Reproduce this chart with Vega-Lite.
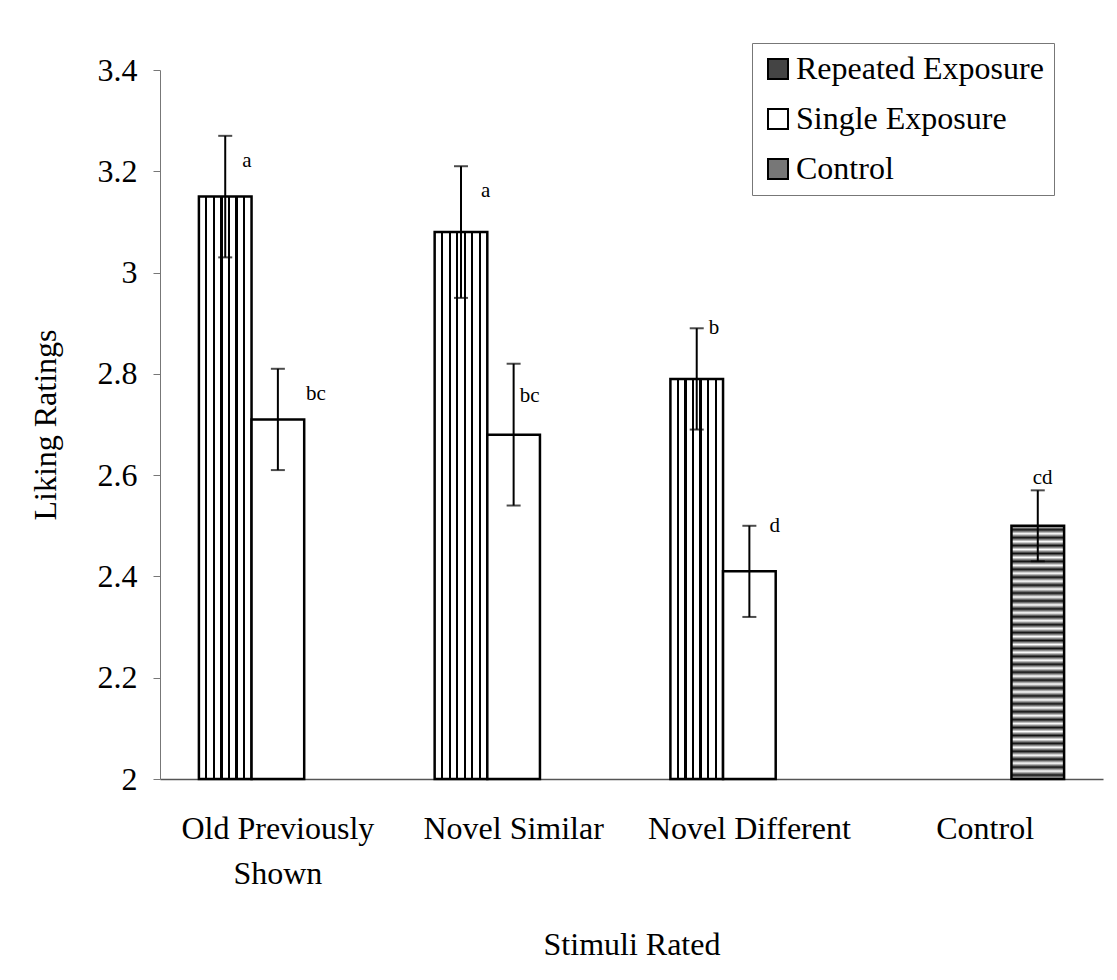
{
  "$schema": "https://vega.github.io/schema/vega-lite/v6.json",
  "width": 943,
  "height": 709,
  "autosize": {"type": "none"},
  "padding": {"left": 160, "top": 70, "right": 14, "bottom": 201},
  "background": "white",
  "config": {
    "view": {"stroke": null},
    "font": "Liberation Serif",
    "axis": {"labelFont": "Liberation Serif", "titleFont": "Liberation Serif", "labelColor": "black", "titleColor": "black", "titleFontWeight": "normal", "grid": false},
    "legend": {"labelFont": "Liberation Serif"}
  },
  "data": {
    "values": [
      {"cat": "Old Previously Shown", "group": "Repeated Exposure", "mean": 3.15, "lo": 3.03, "hi": 3.27, "sig": "a"},
      {"cat": "Old Previously Shown", "group": "Single Exposure", "mean": 2.71, "lo": 2.61, "hi": 2.81, "sig": "bc"},
      {"cat": "Novel Similar", "group": "Repeated Exposure", "mean": 3.08, "lo": 2.95, "hi": 3.21, "sig": "a"},
      {"cat": "Novel Similar", "group": "Single Exposure", "mean": 2.68, "lo": 2.54, "hi": 2.82, "sig": "bc"},
      {"cat": "Novel Different", "group": "Repeated Exposure", "mean": 2.79, "lo": 2.69, "hi": 2.89, "sig": "b"},
      {"cat": "Novel Different", "group": "Single Exposure", "mean": 2.41, "lo": 2.32, "hi": 2.50, "sig": "d"},
      {"cat": "Control", "group": "Control", "mean": 2.50, "lo": 2.43, "hi": 2.57, "sig": "cd"}
    ]
  },
  "encoding": {
    "x": {
      "field": "cat",
      "type": "nominal",
      "sort": ["Old Previously Shown", "Novel Similar", "Novel Different", "Control"],
      "scale": {"paddingInner": 0.33, "paddingOuter": 0.165},
      "axis": {
        "title": "Stimuli Rated",
        "titleFontSize": 32,
        "titlePadding": 40,
        "labelFontSize": 32,
        "labelAngle": 0,
        "labelPadding": 34,
        "labelLineHeight": 45,
        "labelLimit": 500,
        "labelExpr": "datum.value == 'Old Previously Shown' ? ['Old Previously', 'Shown'] : datum.value",
        "ticks": false,
        "domainColor": "#555555",
        "domainWidth": 1.5
      }
    },
    "xOffset": {
      "field": "group",
      "type": "nominal",
      "scale": {"domain": ["Repeated Exposure", "Single Exposure", "Control"], "paddingInner": 0, "paddingOuter": 0}
    },
    "y": {
      "field": "mean",
      "type": "quantitative",
      "scale": {"domain": [2, 3.4], "zero": false, "nice": false},
      "axis": {
        "title": "Liking Ratings",
        "titleFontSize": 32,
        "titlePadding": 35,
        "labelFontSize": 32,
        "labelPadding": 16,
        "values": [2, 2.2, 2.4, 2.6, 2.8, 3, 3.2, 3.4],
        "format": "~g",
        "tickSize": 7,
        "tickColor": "#777777",
        "domainColor": "#777777"
      }
    }
  },
  "layer": [
    {
      "transform": [{"filter": "datum.group === 'Repeated Exposure'"}],
      "mark": {"type": "bar", "stroke": "black", "strokeWidth": 2.5, "fill": {"gradient": "linear", "x1": 0, "y1": 0, "x2": 1, "y2": 0, "stops": [
                {"offset": 0, "color": "white"},
                {"offset": 0.123, "color": "white"}, {"offset": 0.123, "color": "black"}, {"offset": 0.163, "color": "black"}, {"offset": 0.163, "color": "white"},
                {"offset": 0.266, "color": "white"}, {"offset": 0.266, "color": "black"}, {"offset": 0.306, "color": "black"}, {"offset": 0.306, "color": "white"},
                {"offset": 0.409, "color": "white"}, {"offset": 0.409, "color": "black"}, {"offset": 0.449, "color": "black"}, {"offset": 0.449, "color": "white"},
                {"offset": 0.552, "color": "white"}, {"offset": 0.552, "color": "black"}, {"offset": 0.592, "color": "black"}, {"offset": 0.592, "color": "white"},
                {"offset": 0.695, "color": "white"}, {"offset": 0.695, "color": "black"}, {"offset": 0.735, "color": "black"}, {"offset": 0.735, "color": "white"},
                {"offset": 0.838, "color": "white"}, {"offset": 0.838, "color": "black"}, {"offset": 0.878, "color": "black"}, {"offset": 0.878, "color": "white"},
                {"offset": 1, "color": "white"}
              ]}},
      "encoding": {"y2": {"datum": 2}}
    },
    {
      "transform": [{"filter": "datum.group === 'Control'"}],
      "mark": {"type": "bar", "stroke": "black", "strokeWidth": 2.5, "fill": {"gradient": "linear", "x1": 0, "y1": 0, "x2": 0, "y2": 1, "stops": [
                {"offset": 0, "color": "white"}, {"offset": 0.015625, "color": "#111111"}, {"offset": 0.03125, "color": "white"}, {"offset": 0.046875, "color": "#111111"},
                {"offset": 0.0625, "color": "white"}, {"offset": 0.078125, "color": "#111111"}, {"offset": 0.09375, "color": "white"}, {"offset": 0.109375, "color": "#111111"},
                {"offset": 0.125, "color": "white"}, {"offset": 0.140625, "color": "#111111"}, {"offset": 0.15625, "color": "white"}, {"offset": 0.171875, "color": "#111111"},
                {"offset": 0.1875, "color": "white"}, {"offset": 0.203125, "color": "#111111"}, {"offset": 0.21875, "color": "white"}, {"offset": 0.234375, "color": "#111111"},
                {"offset": 0.25, "color": "white"}, {"offset": 0.265625, "color": "#111111"}, {"offset": 0.28125, "color": "white"}, {"offset": 0.296875, "color": "#111111"},
                {"offset": 0.3125, "color": "white"}, {"offset": 0.328125, "color": "#111111"}, {"offset": 0.34375, "color": "white"}, {"offset": 0.359375, "color": "#111111"},
                {"offset": 0.375, "color": "white"}, {"offset": 0.390625, "color": "#111111"}, {"offset": 0.40625, "color": "white"}, {"offset": 0.421875, "color": "#111111"},
                {"offset": 0.4375, "color": "white"}, {"offset": 0.453125, "color": "#111111"}, {"offset": 0.46875, "color": "white"}, {"offset": 0.484375, "color": "#111111"},
                {"offset": 0.5, "color": "white"}, {"offset": 0.515625, "color": "#111111"}, {"offset": 0.53125, "color": "white"}, {"offset": 0.546875, "color": "#111111"},
                {"offset": 0.5625, "color": "white"}, {"offset": 0.578125, "color": "#111111"}, {"offset": 0.59375, "color": "white"}, {"offset": 0.609375, "color": "#111111"},
                {"offset": 0.625, "color": "white"}, {"offset": 0.640625, "color": "#111111"}, {"offset": 0.65625, "color": "white"}, {"offset": 0.671875, "color": "#111111"},
                {"offset": 0.6875, "color": "white"}, {"offset": 0.703125, "color": "#111111"}, {"offset": 0.71875, "color": "white"}, {"offset": 0.734375, "color": "#111111"},
                {"offset": 0.75, "color": "white"}, {"offset": 0.765625, "color": "#111111"}, {"offset": 0.78125, "color": "white"}, {"offset": 0.796875, "color": "#111111"},
                {"offset": 0.8125, "color": "white"}, {"offset": 0.828125, "color": "#111111"}, {"offset": 0.84375, "color": "white"}, {"offset": 0.859375, "color": "#111111"},
                {"offset": 0.875, "color": "white"}, {"offset": 0.890625, "color": "#111111"}, {"offset": 0.90625, "color": "white"}, {"offset": 0.921875, "color": "#111111"},
                {"offset": 0.9375, "color": "white"}, {"offset": 0.953125, "color": "#111111"}, {"offset": 0.96875, "color": "white"}, {"offset": 0.984375, "color": "#111111"},
                {"offset": 1, "color": "white"}
              ]}},
      "encoding": {"y2": {"datum": 2}}
    },
    {
      "transform": [{"filter": "datum.group === 'Single Exposure'"}],
      "mark": {"type": "bar", "stroke": "black", "strokeWidth": 2.5},
      "encoding": {
        "y2": {"datum": 2},
        "fill": {
          "field": "group",
          "type": "nominal",
          "scale": {"domain": ["Repeated Exposure", "Single Exposure", "Control"], "range": ["#444444", "white", "#777777"]},
          "legend": {
            "title": null,
            "orient": "none",
            "legendX": 592,
            "legendY": -27,
            "direction": "vertical",
            "symbolType": "square",
            "symbolSize": 400,
            "symbolStrokeColor": "black",
            "symbolStrokeWidth": 2,
            "symbolOpacity": 1,
            "labelFontSize": 32,
            "labelColor": "black",
            "labelOffset": 2,
            "labelLimit": 400,
            "rowPadding": 18,
            "padding": 10,
            "fillColor": "white",
            "strokeColor": "#777777",
            "encode": {
              "symbols": {
                "update": {
                  "fill": {"signal": "datum.value === 'Repeated Exposure' ? {gradient: 'linear', x1: 0, y1: 0, x2: 1, y2: 0, stops: [{offset: 0, color: 'white'}, {offset: 0.28, color: 'white'}, {offset: 0.28, color: 'black'}, {offset: 0.4, color: 'black'}, {offset: 0.4, color: 'white'}, {offset: 0.6, color: 'white'}, {offset: 0.6, color: 'black'}, {offset: 0.72, color: 'black'}, {offset: 0.72, color: 'white'}, {offset: 1, color: 'white'}]} : datum.value === 'Control' ? '#777777' : 'white'"},
                  "stroke": {"value": "black"},
                  "strokeWidth": {"value": 2}
                }
              }
            }
          }
        }
      }
    },
    {
      "mark": {"type": "rule", "color": "black", "strokeWidth": 2},
      "encoding": {
        "y": {"field": "lo", "type": "quantitative"},
        "y2": {"field": "hi"}
      }
    },
    {
      "mark": {"type": "tick", "color": "black", "orient": "horizontal", "size": 14, "thickness": 2},
      "encoding": {"y": {"field": "lo", "type": "quantitative"}}
    },
    {
      "mark": {"type": "tick", "color": "black", "orient": "horizontal", "size": 14, "thickness": 2},
      "encoding": {"y": {"field": "hi", "type": "quantitative"}}
    },
    {
      "mark": {
        "type": "text",
        "align": "left",
        "baseline": "middle",
        "font": "Liberation Serif",
        "fontSize": 21,
        "color": "black",
        "dx": {"expr": "datum.cat === 'Old Previously Shown' ? (datum.group === 'Repeated Exposure' ? 17 : 28) : datum.cat === 'Novel Similar' ? (datum.group === 'Repeated Exposure' ? 20 : 6) : datum.cat === 'Novel Different' ? (datum.group === 'Repeated Exposure' ? 12 : 20) : -5"},
        "dy": {"expr": "datum.sig === 'b' || datum.sig === 'd' ? 0 : datum.sig === 'cd' ? -12 : (datum.cat === 'Novel Similar' && datum.sig === 'bc' ? 32 : 25)"}
      },
      "encoding": {
        "y": {"field": "hi", "type": "quantitative"},
        "text": {"field": "sig"}
      }
    }
  ]
}
